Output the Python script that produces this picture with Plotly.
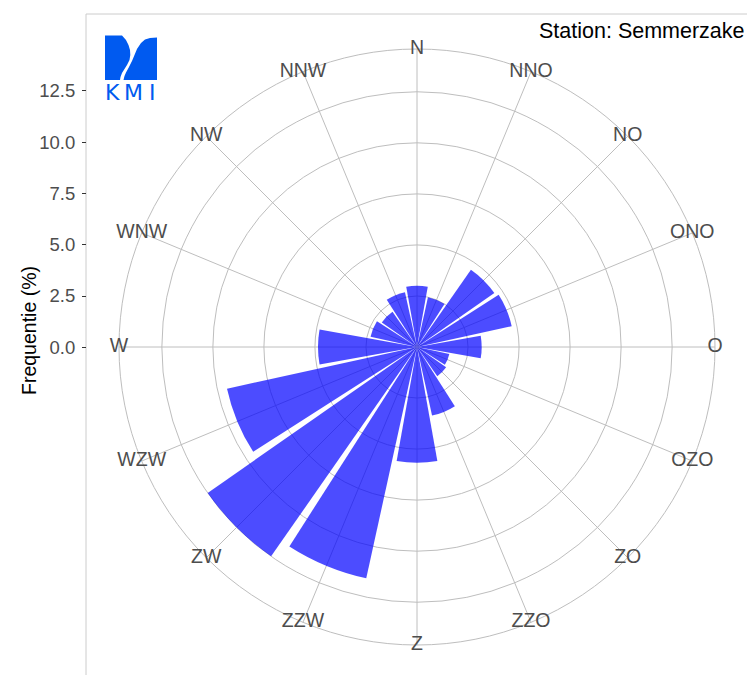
import plotly.graph_objects as go

# ---- data ----
directions = ["N", "NNO", "NO", "ONO", "O", "OZO", "ZO", "ZZO",
              "Z", "ZZW", "ZW", "WZW", "W", "WNW", "NW", "NNW"]
frequency = [3.0, 2.5, 4.62, 4.75, 3.17, 1.62, 1.74, 3.44,
             5.67, 11.6, 12.5, 9.53, 4.85, 2.33, 2.1, 2.75]
y_ticks = [0.0, 2.5, 5.0, 7.5, 10.0, 12.5]
y_tick_labels = ["0.0", "2.5", "5.0", "7.5", "10.0", "12.5"]
ring_values = [2.5, 5.0, 7.5, 10.0, 12.5]
r_max = 14.6
station = "Station: Semmerzake"

W, H = 755, 675
OFF = 8  # page body margin
FONT = "Liberation Sans, Arial, sans-serif"
GRID = "#BEBEBE"

def px(x):
    return (x - OFF) / W

def py(y):
    return 1 - (y - OFF) / H

fig = go.Figure()

fig.add_trace(go.Barpolar(
    r=frequency, theta=directions, width=[0.9] * len(directions),
    marker=dict(color="rgba(0,0,255,0.7)", line=dict(width=0)),
    hoverinfo="skip", showlegend=False,
))

fig.add_trace(go.Scatterpolar(
    r=[r_max] * len(directions), theta=directions, mode="text",
    text=directions, textposition="middle center", cliponaxis=False,
    textfont=dict(family=FONT, size=19.5, color="#4D4D4D"),
    hoverinfo="skip", showlegend=False,
))

# invisible trace to carry the left frequency axis
fig.add_trace(go.Scatter(
    x=[0.5, 0.5], y=[y_ticks[0], y_ticks[-1]], mode="markers",
    marker=dict(opacity=0), hoverinfo="skip", showlegend=False,
    xaxis="x", yaxis="y",
))

cx, cy, rp = 417, 347, 298
px_per_unit = 20.52
y0_fig = 347.3 - OFF
ymin = -(H - y0_fig) / px_per_unit
ymax = y0_fig / px_per_unit

def path(points):
    return "M " + " L ".join(f"{px(x):.5f},{py(y):.5f}" for x, y in points) + " Z"

left_logo = [(105, 35.5), (122, 35.5), (126, 40), (128.5, 45), (130, 50), (130.3, 55),
             (129.5, 60), (127, 65), (124.5, 69), (122, 73), (120.5, 77), (120, 80), (105, 80)]
right_logo = [(157, 37.5), (157, 80), (123.5, 80), (124.5, 76), (126, 72.5), (129, 67),
              (132, 61), (134.5, 55), (137, 49), (141, 43), (145, 39.5), (150, 38)]
logo_blue = "#005AF0"

shapes = [
    dict(type="rect", xref="paper", yref="paper", x0=px(86), x1=px(752), y0=py(700), y1=py(14),
         line=dict(color="#CCCCCC", width=1), fillcolor="rgba(0,0,0,0)", layer="below"),
    dict(type="path", xref="paper", yref="paper", path=path(left_logo),
         fillcolor=logo_blue, line=dict(width=0)),
    dict(type="path", xref="paper", yref="paper", path=path(right_logo),
         fillcolor=logo_blue, line=dict(width=0)),
]

annotations = [
    dict(text="Frequentie (%)", x=px(29), y=py(331), xref="paper", yref="paper",
         textangle=-90, showarrow=False, xanchor="center", yanchor="middle",
         font=dict(family=FONT, size=19.5, color="black")),
    dict(text=station, x=px(537), y=py(31), xref="paper", yref="paper",
         showarrow=False, xanchor="left", yanchor="middle",
         font=dict(family=FONT, size=21.5, color="black")),
]
for letter, lx in [("K", 112), ("M", 133), ("I", 152)]:
    annotations.append(dict(text=letter, x=px(lx), y=py(92.5), xref="paper", yref="paper",
                            showarrow=False, xanchor="center", yanchor="middle",
                            font=dict(family="DejaVu Sans, sans-serif", size=22, color=logo_blue)))

fig.update_layout(
    width=W, height=H,
    margin=dict(l=0, r=0, t=0, b=0),
    paper_bgcolor="white", plot_bgcolor="rgba(0,0,0,0)",
    showlegend=False,
    polar=dict(
        domain=dict(x=[px(cx - rp), px(cx + rp)], y=[py(cy + rp), py(cy - rp)]),
        bgcolor="white",
        radialaxis=dict(range=[0, r_max], tickvals=ring_values, showticklabels=False,
                        ticks="", showline=False, gridcolor=GRID, gridwidth=1,
                        layer="below traces"),
        angularaxis=dict(type="category", categoryarray=directions, rotation=90,
                         direction="clockwise", showticklabels=False, ticks="",
                         showline=True, linecolor=GRID, linewidth=1,
                         gridcolor=GRID, gridwidth=1, layer="below traces"),
    ),
    xaxis=dict(domain=[0, 1], range=[0, 1], visible=False, fixedrange=True),
    yaxis=dict(domain=[0, 1], range=[ymin, ymax], anchor="free", position=px(86),
               tickvals=y_ticks, ticktext=y_tick_labels, ticks="outside", ticklen=4,
               tickcolor="#333333", tickwidth=1, showgrid=False, zeroline=False,
               showline=False, ticklabelstandoff=3,
               tickfont=dict(family=FONT, size=18.5, color="#4D4D4D")),
    shapes=shapes,
    annotations=annotations,
)

fig.write_html("out.html")
